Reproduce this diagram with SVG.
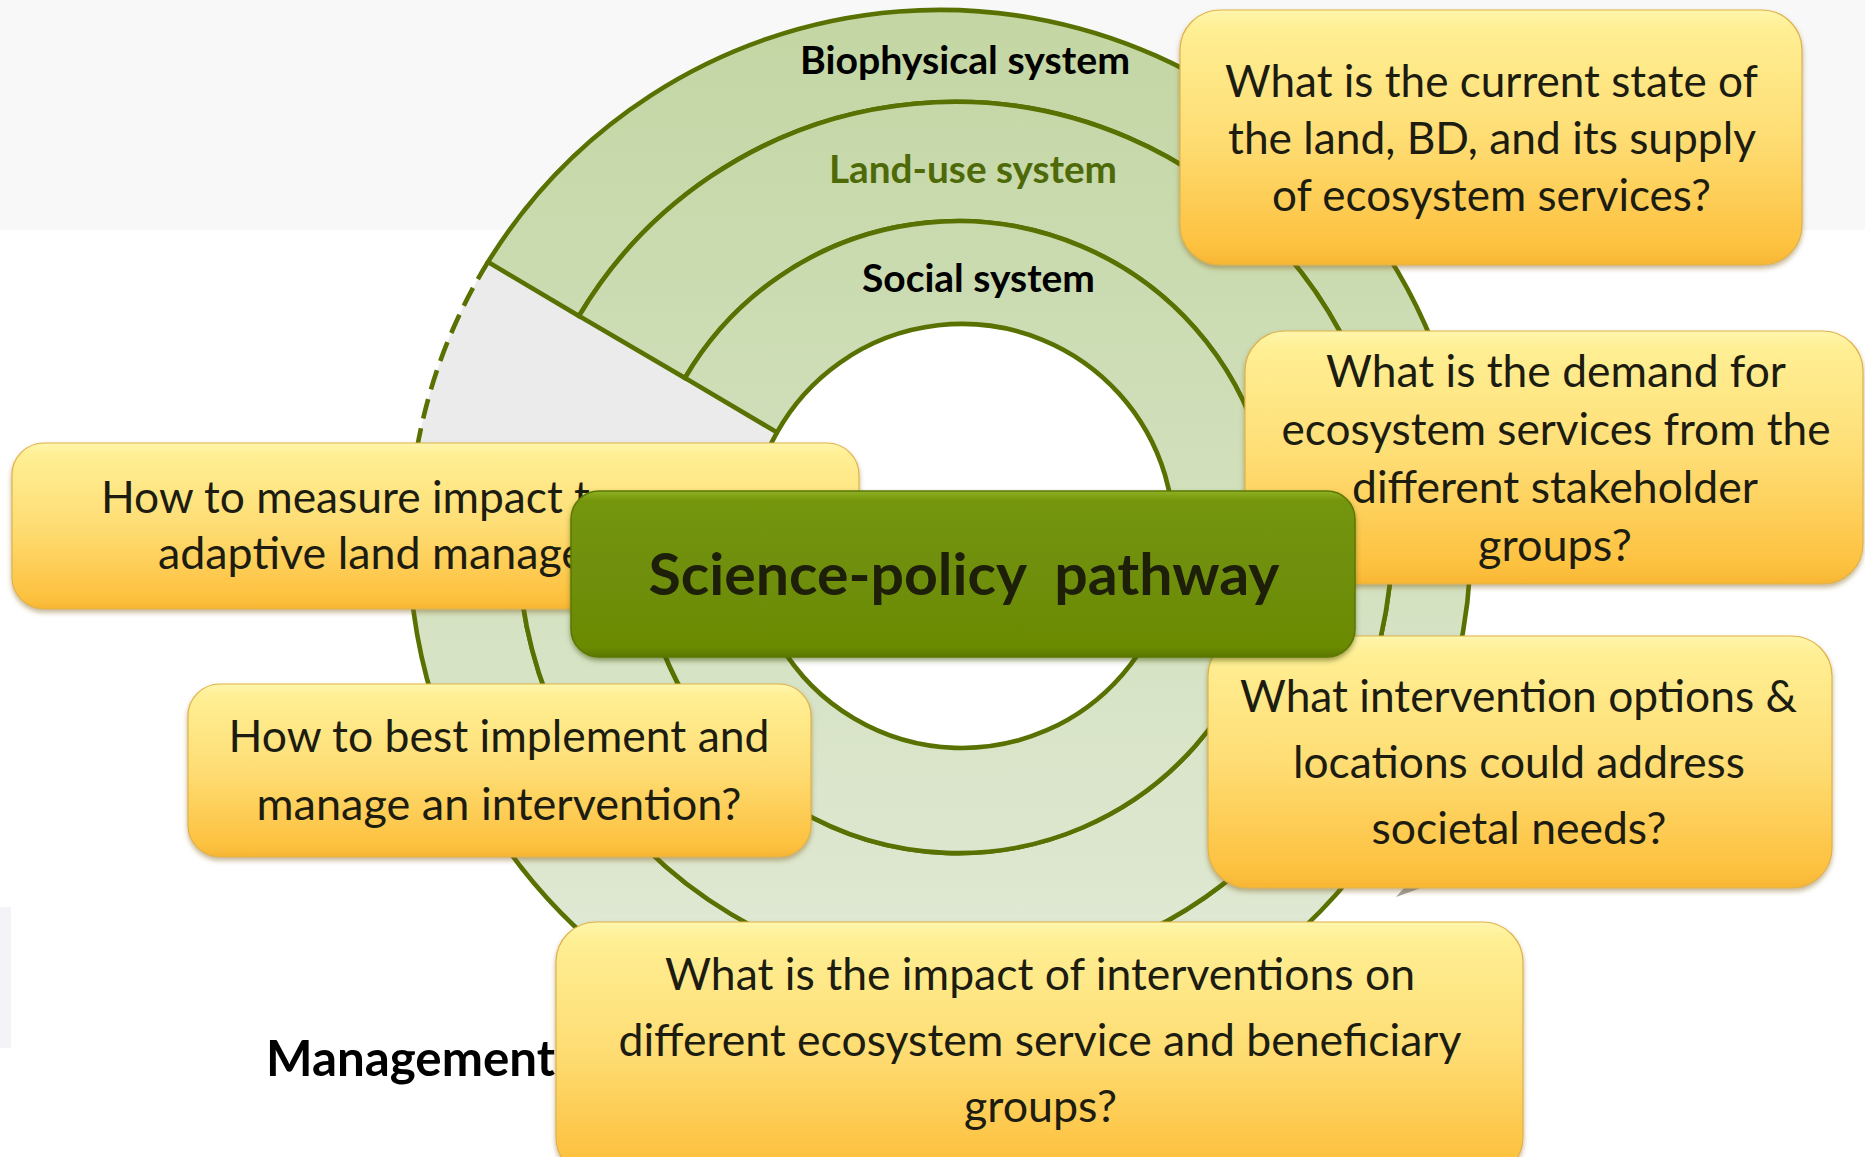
<svg xmlns="http://www.w3.org/2000/svg" width="1865" height="1157" viewBox="0 0 1865 1157">
<defs>
  <linearGradient id="bandGrad" gradientUnits="userSpaceOnUse" x1="0" y1="11" x2="0" y2="1073">
    <stop offset="0" stop-color="#c3d6a3"/>
    <stop offset="1" stop-color="#e3ebda"/>
  </linearGradient>
  <linearGradient id="yellowGrad" x1="0" y1="0" x2="0" y2="1">
    <stop offset="0" stop-color="#fff6ac"/>
    <stop offset="0.07" stop-color="#ffef94"/>
    <stop offset="0.5" stop-color="#fedd74"/>
    <stop offset="0.93" stop-color="#fdc13f"/>
    <stop offset="1" stop-color="#f7b634"/>
  </linearGradient>
  <linearGradient id="greenGrad" x1="0" y1="0" x2="0" y2="1">
    <stop offset="0" stop-color="#8fb126"/>
    <stop offset="0.06" stop-color="#74950a"/>
    <stop offset="0.5" stop-color="#6f8f07"/>
    <stop offset="0.94" stop-color="#6b8a06"/>
    <stop offset="1" stop-color="#5a7704"/>
  </linearGradient>
  <filter id="shadow" x="-5%" y="-10%" width="110%" height="125%">
    <feDropShadow dx="0" dy="3" stdDeviation="2.5" flood-color="#7a5c14" flood-opacity="0.45"/>
  </filter>
  <filter id="shadowG" x="-5%" y="-10%" width="110%" height="125%">
    <feDropShadow dx="0" dy="3" stdDeviation="2.5" flood-color="#3d4d05" flood-opacity="0.5"/>
  </filter>
</defs>
<style>
  .band { fill: url(#bandGrad); stroke: #587100; stroke-width: 4.6; stroke-linejoin: miter; }
  .wedge { fill: #ebebeb; stroke: none; }
  .dash { fill: none; stroke: #587100; stroke-width: 4.6; stroke-dasharray: 20 10; }
  .qbox { fill: url(#yellowGrad); stroke: #e0b24a; stroke-width: 1.2; filter: url(#shadow); }
  .cbox { fill: url(#greenGrad); stroke: #5b7805; stroke-width: 1.5; filter: url(#shadowG); }
  .qtext { font-family: Lato, "Open Sans", "Liberation Sans", sans-serif; font-size: 45px; fill: #1c1c10; }
  .mid { text-anchor: middle; }
  .rlabel { font-family: Lato, "Liberation Sans", sans-serif; font-weight: 700; font-size: 39px; text-anchor: middle; fill: #000000; }
  .ctext { font-family: Lato, "Liberation Sans", sans-serif; font-weight: 700; font-size: 58px; text-anchor: middle; fill: #1d1f08; white-space: pre; }
  .mgmt { font-family: Lato, "Liberation Sans", sans-serif; font-weight: 700; font-size: 49px; fill: #000000; }
</style>

<rect x="0" y="0" width="1865" height="1157" fill="#ffffff"/>
<rect x="0" y="0" width="1865" height="230" fill="#f8f8f8"/>
<rect x="0" y="907" width="11" height="141" fill="#f4f4f8"/>

<g id="rings">
  <path class="wedge" d="M 488 262 A 531 531 0 0 0 411 588.3 L 750.8 554.5 A 212 212 0 0 1 777 432.4 Z"/>
  <path class="dash" d="M 488 262 A 531 531 0 0 0 411 588.3"/>
  <path class="dash" d="M 777 432.4 A 212 212 0 0 0 750.8 554.5"/>
  <g id="biophysical-system">
    <path class="band" d="M 488 262 A 531 531 0 1 1 411 588.3 L 519.7 578.1 A 437 437 0 1 0 579 316 Z"/>
    <text class="rlabel" x="965" y="74" textLength="330" lengthAdjust="spacingAndGlyphs">Biophysical system</text>
  </g>
  <g id="land-use-system">
    <path class="band" d="M 579 316 A 437 437 0 1 1 519.7 578.1 L 643.2 564.5 A 316 316 0 1 0 685 378 Z"/>
    <text class="rlabel" x="973" y="183" style="fill:#4e6a08" textLength="288" lengthAdjust="spacingAndGlyphs">Land-use system</text>
  </g>
  <g id="social-system">
    <path class="band" d="M 685 378 A 316 316 0 1 1 643.2 564.5 L 750.8 554.5 A 212 212 0 1 0 777 432.4 Z"/>
    <text class="rlabel" x="978.5" y="292" textLength="233" lengthAdjust="spacingAndGlyphs">Social system</text>
  </g>
</g>

<g id="management-label">
  <text class="mgmt" x="266" y="1076" textLength="289" lengthAdjust="spacingAndGlyphs">Management</text>
</g>

<g id="connectors">
  <polygon points="1396,897 1404,888 1421,888" fill="#a3a3a3"/>
</g>

<g id="q-current-state">
  <rect class="qbox" x="1180" y="10" width="622" height="255" rx="40"/>
  <text class="qtext mid" x="1491.5" y="97" textLength="533" lengthAdjust="spacingAndGlyphs">What is the current state of</text>
  <text class="qtext mid" x="1492" y="154" textLength="528" lengthAdjust="spacingAndGlyphs">the land, BD, and its supply</text>
  <text class="qtext mid" x="1491.5" y="211" textLength="439" lengthAdjust="spacingAndGlyphs">of ecosystem services?</text>
</g>

<g id="q-demand">
  <rect class="qbox" x="1245" y="331" width="618" height="253" rx="40"/>
  <text class="qtext mid" x="1556" y="387" textLength="460" lengthAdjust="spacingAndGlyphs">What is the demand for</text>
  <text class="qtext mid" x="1556" y="445" textLength="549" lengthAdjust="spacingAndGlyphs">ecosystem services from the</text>
  <text class="qtext mid" x="1555" y="503" textLength="406" lengthAdjust="spacingAndGlyphs">different stakeholder</text>
  <text class="qtext mid" x="1555" y="561" textLength="154" lengthAdjust="spacingAndGlyphs">groups?</text>
</g>

<g id="q-intervention-options">
  <rect class="qbox" x="1208" y="636" width="624" height="252" rx="40"/>
  <text class="qtext mid" x="1518.5" y="712" textLength="557" lengthAdjust="spacingAndGlyphs">What intervention options &amp;</text>
  <text class="qtext mid" x="1519" y="778" textLength="452" lengthAdjust="spacingAndGlyphs">locations could address</text>
  <text class="qtext mid" x="1519" y="844" textLength="295" lengthAdjust="spacingAndGlyphs">societal needs?</text>
</g>

<g id="q-impact">
  <rect class="qbox" x="556" y="922" width="967" height="255" rx="40"/>
  <text class="qtext mid" x="1040" y="990" textLength="750" lengthAdjust="spacingAndGlyphs">What is the impact of interventions on</text>
  <text class="qtext mid" x="1040" y="1056" textLength="843" lengthAdjust="spacingAndGlyphs">different ecosystem service and beneficiary</text>
  <text class="qtext mid" x="1040.5" y="1122" textLength="153" lengthAdjust="spacingAndGlyphs">groups?</text>
</g>

<g id="q-measure">
  <rect class="qbox" x="12" y="443" width="847" height="166" rx="32"/>
  <text class="qtext" x="101" y="513" textLength="489" lengthAdjust="spacingAndGlyphs">How to measure impact t</text>
  <text class="qtext" x="158" y="569" textLength="427" lengthAdjust="spacingAndGlyphs">adaptive land manage</text>
</g>

<g id="q-implement">
  <rect class="qbox" x="188" y="684" width="623" height="173" rx="32"/>
  <text class="qtext mid" x="499" y="752" textLength="541" lengthAdjust="spacingAndGlyphs">How to best implement and</text>
  <text class="qtext mid" x="499" y="820" textLength="485" lengthAdjust="spacingAndGlyphs">manage an intervention?</text>
</g>

<g id="science-policy-pathway">
  <rect class="cbox" x="571" y="491" width="784" height="166" rx="28"/>
  <text class="ctext" x="964" y="595" textLength="631" lengthAdjust="spacingAndGlyphs">Science-policy  pathway</text>
</g>
</svg>
